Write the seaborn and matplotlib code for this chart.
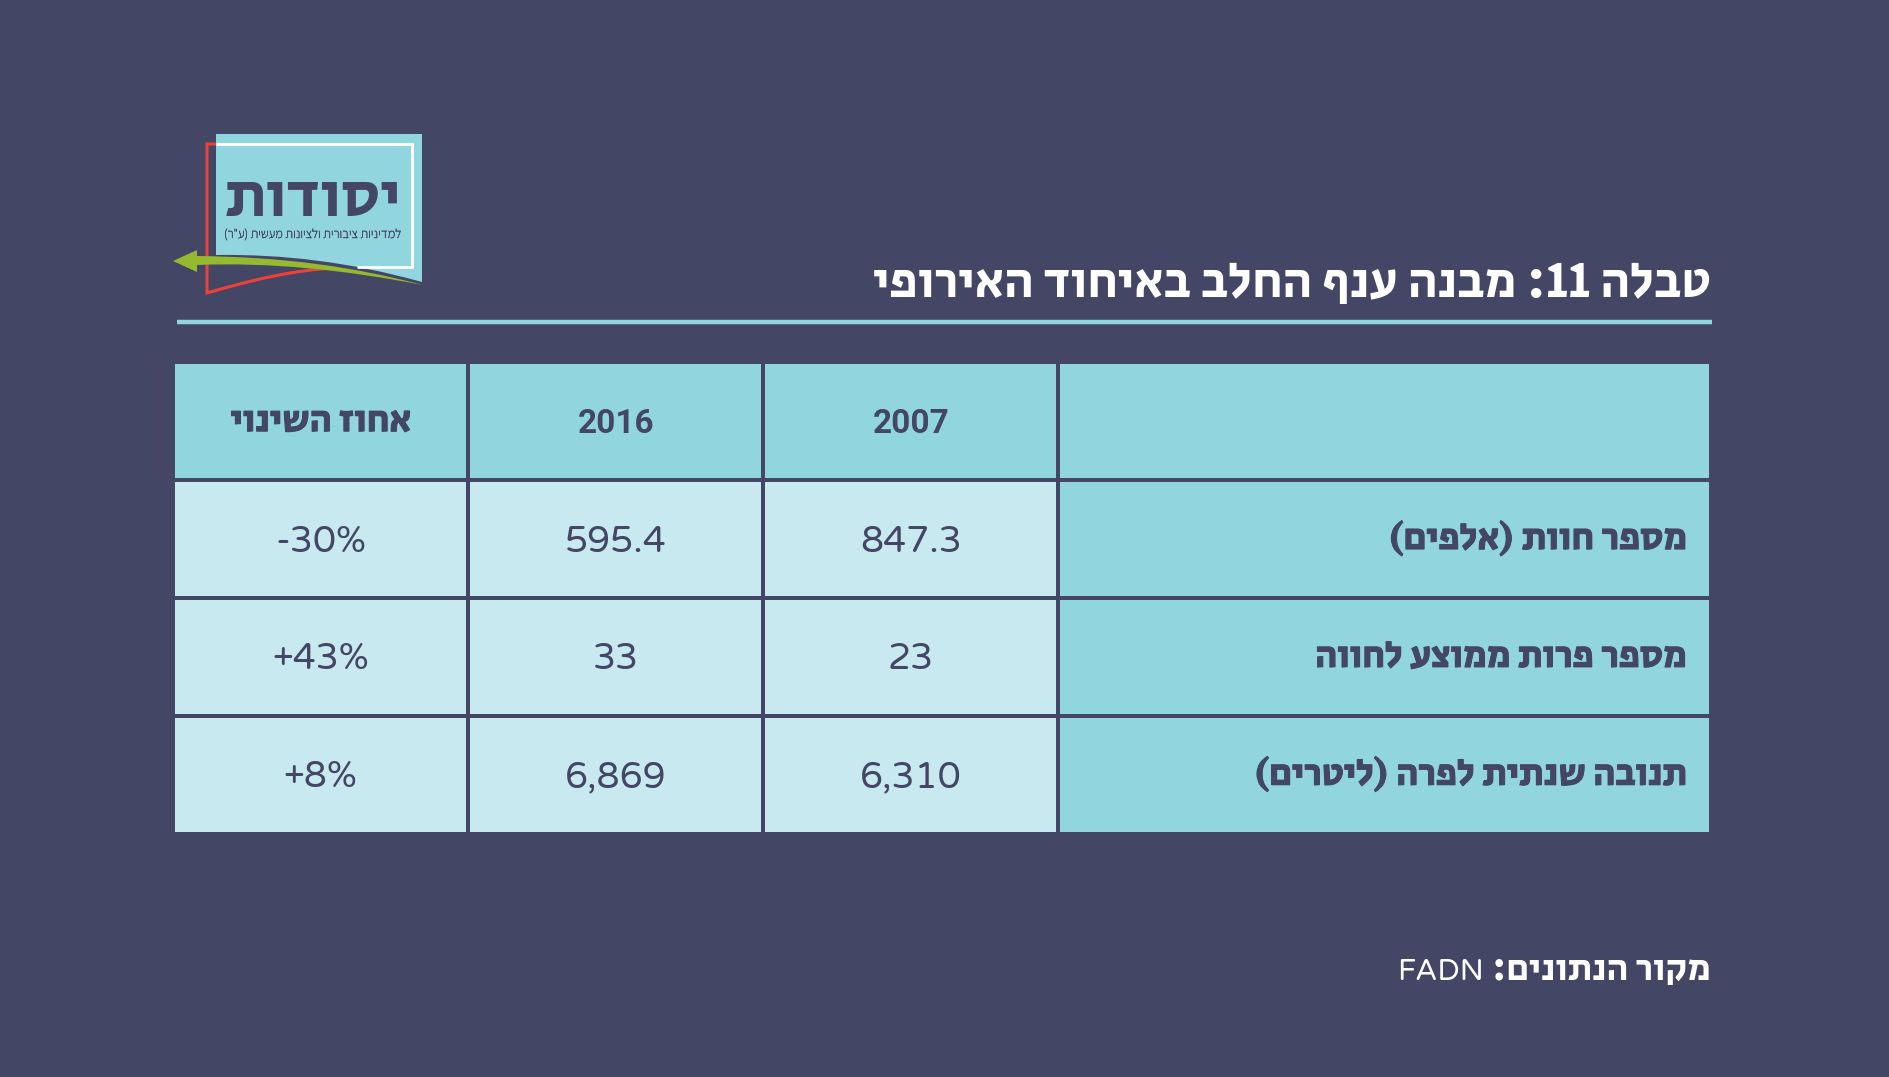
import numpy as np
import re
import matplotlib
matplotlib.use('Agg')
import matplotlib.pyplot as plt
import matplotlib.patheffects as pe
import seaborn as sns
from matplotlib.colors import ListedColormap
from matplotlib.patches import PathPatch, Polygon
from matplotlib.path import Path

# data
years = ['2016', '2007']
change_title = 'אחוז השינוי'
row_names = ['מספר חוות (אלפים)', 'מספר פרות ממוצע לחווה', 'תנובה שנתית לפרה (ליטרים)']
values_2007 = ['847.3', '23', '6,310']
values_2016 = ['595.4', '33', '6,869']
changes = ['-30%', '+43%', '+8%']
title = 'טבלה 11: מבנה ענף החלב באיחוד האירופי'
source = 'מקור הנתונים:'
source_name = 'FADN'
logo_name = 'יסודות'
logo_sub = 'למדיניות ציבורית ולציונות מעשית (ע"ר)'

# colours
BG = '#434665'
HEAD = '#91D6DF'
BODY = '#C9E9F0'
RED = '#EF4136'
GREEN = '#95B92F'

W, H = 1890, 1077
HEB = ['Secular One', 'Liberation Sans', 'DejaVu Sans']
NUM = ['Varela Round', 'Open Sans', 'DejaVu Sans']
BOLDNUM = ['Roboto', 'DejaVu Sans']


# matplotlib has no bidi, so put hebrew in visual order by hand
def rtl(s):
    swap = {'(': ')', ')': '('}
    out = ''.join(swap.get(c, c) for c in s[::-1])
    return re.sub(r'\d+', lambda m: m.group(0)[::-1], out)


def place(left, top, right, bottom):
    return fig.add_axes([left / W, 1 - bottom / H, (right - left) / W, (bottom - top) / H])


def thicken(t, color, width=0.7):
    t.set_path_effects([pe.withStroke(linewidth=width, foreground=color)])


sns.set_theme(style='white')
fig = plt.figure(figsize=(W / 100, H / 100), dpi=100, facecolor=BG)

# full page axes for the title, rule and logo, in pixels
page = fig.add_axes([0, 0, 1, 1])
page.set_xlim(0, W)
page.set_ylim(H, 0)
page.axis('off')

# table is two heatmaps: numbers on the left, wider label column on the right
numbers = [[rtl(change_title)] + years] + [list(r) for r in zip(changes, values_2016, values_2007)]
labels = [['']] + [[rtl(n)] for n in row_names]
shade_numbers = np.ones((4, 3))
shade_numbers[0, :] = 0
shade_labels = np.zeros((4, 1))

cell_cmap = ListedColormap([HEAD, BODY])
ax_num = place(173.25, 362.25, 1058.5, 833.75)
sns.heatmap(shade_numbers, ax=ax_num, cmap=cell_cmap, vmin=0, vmax=1, cbar=False,
            linewidths=2.6, linecolor=BG, annot=np.array(numbers), fmt='',
            xticklabels=False, yticklabels=False)
ax_lab = place(1058.5, 362.25, 1710.75, 833.75)
sns.heatmap(shade_labels, ax=ax_lab, cmap=cell_cmap, vmin=0, vmax=1, cbar=False,
            linewidths=2.6, linecolor=BG, annot=np.array(labels), fmt='',
            xticklabels=False, yticklabels=False)

for i, t in enumerate(ax_num.texts):
    t.set_color(BG)
    if i == 0:
        t.set_family(HEB)
        t.set_fontsize(27)
        thicken(t, BG)
    elif i < 3:
        t.set_family(BOLDNUM)
        t.set_fontweight('bold')
        t.set_fontsize(24)
        t.set_y(t.get_position()[1] + 0.02)
    else:
        t.set_family(NUM)
        t.set_fontsize(26.5)
        t.set_y(t.get_position()[1] + 0.03)

for t in ax_lab.texts:
    t.set_color(BG)
    t.set_family(HEB)
    t.set_fontsize(27)
    t.set_ha('right')
    t.set_x(1 - 24 / 652)
    thicken(t, BG)

# title and rule
head = page.text(1711, 297, rtl(title), color='white', family=HEB, fontsize=36.4, ha='right', va='baseline')
page.plot([177, 1712], [322, 322], color=HEAD, lw=3.2, solid_capstyle='butt')

# source line
page.text(1711, 980, rtl(source), color='white', family=HEB, fontsize=26.7, ha='right', va='baseline')
page.text(1484, 980, source_name, color='white', family=NUM, fontsize=21.5, ha='right', va='baseline')

# logo
C4 = Path.CURVE4
L = Path.LINETO
M = Path.MOVETO
logo_box = Path([(216, 134), (422, 134), (422, 282), (350, 262), (283, 254), (216, 255), (216, 134)],
                [M, L, L, C4, C4, C4, Path.CLOSEPOLY])
page.add_patch(PathPatch(logo_box, fc=HEAD, ec='none', zorder=2))
white_frame = Path([(216, 144), (412, 144), (412, 267), (357, 267)], [M, L, L, L])
page.add_patch(PathPatch(white_frame, fc='none', ec='white', lw=2, zorder=3, capstyle='butt', joinstyle='miter'))
red_frame = Path([(216, 144), (207, 144), (207, 293), (255, 279), (295, 270), (335, 268)], [M, L, L, C4, C4, C4])
page.add_patch(PathPatch(red_frame, fc='none', ec=RED, lw=2.2, zorder=3, capstyle='butt', joinstyle='miter'))
arrow = Path([(197, 256), (283, 257), (350, 266), (423, 285), (345, 270), (270, 262), (197, 265), (197, 256)],
             [M, C4, C4, C4, C4, C4, C4, Path.CLOSEPOLY])
page.add_patch(PathPatch(arrow, fc=GREEN, ec='none', zorder=4))
page.add_patch(Polygon([(173, 261), (197, 250), (197, 272)], closed=True, fc=GREEN, ec='none', zorder=4))
page.text(312.7, 216, rtl(logo_name), color=BG, family=HEB, fontsize=45.5, ha='center', va='baseline', zorder=5)
sub = page.text(312.7, 238, rtl(logo_sub), color=BG, family=['Assistant', 'Liberation Sans', 'DejaVu Sans'],
                fontsize=9.4, ha='center', va='baseline', zorder=5)
thicken(sub, BG, 0.3)

fig.savefig('out.png', dpi=100, facecolor=BG)
